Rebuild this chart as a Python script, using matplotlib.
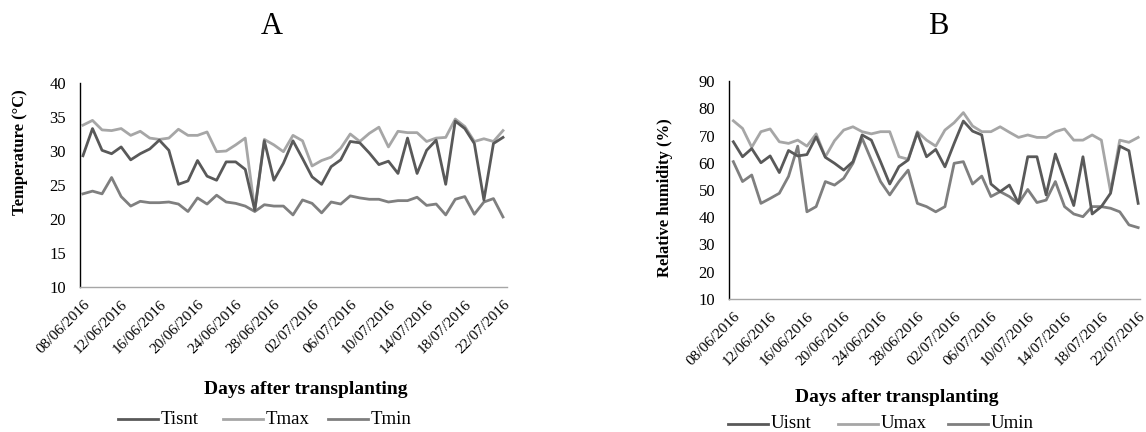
import numpy as np
import matplotlib
matplotlib.use('Agg')
import matplotlib.pyplot as plt

plt.rcParams['font.family'] = ['Liberation Serif', 'DejaVu Serif']

# ─── Data (daily, 08/06/2016 .. 22/07/2016) ─────────────────────────────────
tisnt = [29.3, 33.3, 30.1, 29.6, 30.6, 28.7, 29.6, 30.3, 31.6, 30.1,
         25.1, 25.6, 28.6, 26.3, 25.7, 28.4, 28.4, 27.3, 21.3, 31.5,
         25.7, 28.2, 31.5, 28.9, 26.2, 25.1, 27.7, 28.7, 31.4, 31.2,
         29.7, 28.0, 28.5, 26.7, 31.9, 26.7, 30.1, 31.6, 25.1, 34.4,
         33.3, 31.1, 22.8, 31.1, 32.0]
tmax = [33.8, 34.5, 33.1, 33.0, 33.3, 32.3, 32.9, 31.9, 31.7, 31.9,
        33.2, 32.3, 32.3, 32.8, 29.9, 30.0, 30.9, 31.9, 21.3, 31.7,
        30.9, 29.9, 32.3, 31.5, 27.8, 28.6, 29.1, 30.4, 32.5, 31.4,
        32.6, 33.5, 30.6, 32.9, 32.7, 32.7, 31.4, 31.9, 32.0, 34.7,
        33.6, 31.4, 31.8, 31.4, 33.0]
tmin = [23.7, 24.1, 23.7, 26.1, 23.3, 21.9, 22.6, 22.4, 22.4, 22.5,
        22.2, 21.1, 23.1, 22.2, 23.5, 22.5, 22.3, 21.9, 21.1, 22.1,
        21.9, 21.9, 20.6, 22.8, 22.3, 20.9, 22.5, 22.2, 23.4, 23.1,
        22.9, 22.9, 22.5, 22.7, 22.7, 23.2, 22.0, 22.2, 20.6, 22.9,
        23.3, 20.7, 22.5, 23.0, 20.3]

uisnt = [67.7, 62.2, 65.2, 60.0, 62.5, 56.4, 64.5, 62.5, 63.0, 69.5,
         62.0, 59.8, 57.3, 60.4, 70.2, 68.3, 60.4, 52.2, 58.6, 61.0,
         71.0, 62.2, 64.9, 58.5, 67.1, 75.3, 71.6, 70.2, 52.2, 49.4,
         51.8, 45.1, 62.2, 62.2, 48.2, 63.2, 53.7, 44.3, 62.2, 41.2,
         43.9, 48.8, 66.1, 64.4, 45.1]
umax = [75.4, 72.6, 65.7, 71.4, 72.4, 67.7, 67.1, 68.3, 66.1, 70.6,
        62.2, 68.1, 72.0, 73.2, 71.4, 70.6, 71.4, 71.4, 62.2, 61.3,
        71.4, 68.3, 66.1, 72.0, 74.7, 78.4, 73.5, 71.4, 71.4, 73.2,
        71.2, 69.3, 70.2, 69.3, 69.3, 71.4, 72.4, 68.3, 68.3, 70.2,
        68.3, 49.4, 68.3, 67.5, 69.3]
umin = [60.4, 53.1, 55.5, 45.1, 46.9, 48.8, 55.0, 66.1, 42.0, 43.9,
        53.1, 51.8, 54.3, 59.8, 69.0, 61.0, 53.1, 48.2, 53.1, 57.3,
        45.1, 43.9, 42.0, 43.9, 59.8, 60.4, 52.2, 55.1, 47.6, 49.4,
        47.6, 45.1, 50.2, 45.4, 46.3, 53.1, 43.9, 41.2, 40.2, 43.9,
        43.9, 43.3, 42.0, 37.2, 36.2]

tick_labels = ['08/06/2016', '12/06/2016', '16/06/2016', '20/06/2016',
               '24/06/2016', '28/06/2016', '02/07/2016', '06/07/2016',
               '10/07/2016', '14/07/2016', '18/07/2016', '22/07/2016']

C_ISNT = '#595959'
C_MAX = '#a6a6a6'
C_MIN = '#7f7f7f'

W, H = 1146, 432
fig = plt.figure(figsize=(W / 100, H / 100), dpi=100)
fig.patch.set_facecolor('white')


def px(x0, y_top, x1, y_bot):
    return [x0 / W, 1 - y_bot / H, (x1 - x0) / W, (y_bot - y_top) / H]


def style_panel(ax, ylim, yticks, xlim):
    days = np.arange(len(tisnt))
    ax.set_xlim(*xlim)
    ax.set_ylim(*ylim)
    ax.set_yticks(yticks)
    ax.set_xticks(days[::4])
    ax.set_xticklabels(tick_labels, rotation=45, ha='right',
                       rotation_mode='anchor')
    ax.tick_params(length=0)
    ax.tick_params(axis='y', pad=10, labelsize=12)
    ax.tick_params(axis='x', pad=8, labelsize=11)
    for s in ('top', 'right'):
        ax.spines[s].set_visible(False)
    ax.spines['left'].set_color('black')
    ax.spines['left'].set_linewidth(1.0)
    ax.spines['bottom'].set_color('#a6a6a6')
    ax.spines['bottom'].set_linewidth(1.0)


def legend_row(x0, y, names, colors, step):
    # line + label entries laid out horizontally
    x = x0
    for name, c in zip(names, colors):
        fig.add_artist(plt.Line2D([x / W, (x + 40) / W], [1 - y / H, 1 - y / H],
                                  color=c, lw=2))
        fig.text((x + 43) / W, 1 - y / H, name, fontsize=13.5,
                 va='center', ha='left')
        x += step


lw = 2.0
days = np.arange(len(tisnt))

# ── Panel A ────────────────────────────────────────────────────────────────
ax_a = fig.add_axes(px(80, 83, 507, 287))
ax_a.plot(days, tisnt, color=C_ISNT, lw=lw, label='Tisnt', zorder=3)
ax_a.plot(days, tmax, color=C_MAX, lw=lw, label='Tmax', zorder=2)
ax_a.plot(days, tmin, color=C_MIN, lw=lw, label='Tmin', zorder=2)
style_panel(ax_a, (10, 40), range(10, 41, 5), (-0.31, 44.42))
fig.text(272 / W, 1 - 27 / H, 'A', fontsize=22, ha='center', va='center')
fig.text(20 / W, 1 - 152 / H, 'Temperature (°C)', rotation=90, fontsize=12,
         fontweight='bold', ha='center', va='center')
fig.text(306 / W, 1 - 390 / H, 'Days after transplanting', fontsize=14,
         fontweight='bold', ha='center', va='center')
legend_row(118, 419, ['Tisnt', 'Tmax', 'Tmin'], [C_ISNT, C_MAX, C_MIN], 105)

# ── Panel B ────────────────────────────────────────────────────────────────
ax_b = fig.add_axes(px(729, 81, 1140, 299))
ax_b.plot(days, uisnt, color=C_ISNT, lw=lw, label='Uisnt', zorder=3)
ax_b.plot(days, umax, color=C_MAX, lw=lw, label='Umax', zorder=2)
ax_b.plot(days, umin, color=C_MIN, lw=lw, label='Umin', zorder=2)
style_panel(ax_b, (10, 90), range(10, 91, 10), (-0.47, 44.2))
fig.text(938 / W, 1 - 27 / H, 'B', fontsize=22, ha='center', va='center')
fig.text(665 / W, 1 - 198 / H, 'Relative humidity (%)', rotation=90,
         fontsize=12, fontweight='bold', ha='center', va='center')
fig.text(897 / W, 1 - 397 / H, 'Days after transplanting', fontsize=14,
         fontweight='bold', ha='center', va='center')
legend_row(728, 424, ['Uisnt', 'Umax', 'Umin'], [C_ISNT, C_MAX, C_MIN], 110)

fig.savefig('out.png', dpi=100, facecolor='white')
